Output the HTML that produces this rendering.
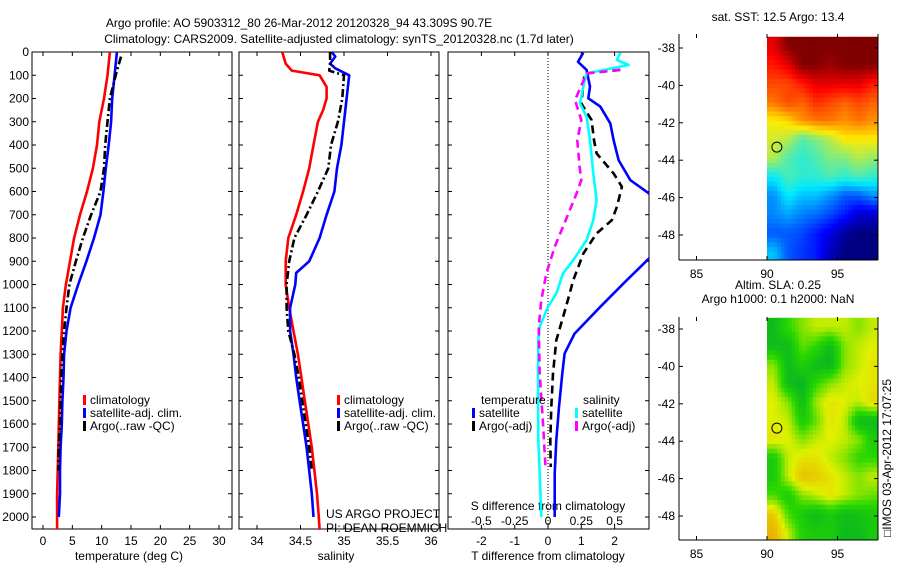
<!DOCTYPE html>
<html><head><meta charset="utf-8"><style>
body{margin:0;background:#fff}
svg text{font-family:"Liberation Sans",sans-serif;font-size:12px;fill:#000}
</style></head><body>
<svg id="c" width="900" height="580" xmlns="http://www.w3.org/2000/svg"></svg>
<script>
// ---- data ----
const tClimDepth=[0,100,200,300,400,500,600,700,800,900,1000,1100,1200,1300,1400,1500,1600,1700,1800,1900,2000,2055];
const tClimVal=[11.4,11.0,10.4,9.6,9.2,8.5,7.5,6.3,5.3,4.6,3.9,3.4,3.2,3.0,2.9,2.8,2.7,2.6,2.5,2.4,2.4,2.4];
const tSatDepth=[0,100,200,300,400,500,600,700,800,900,1000,1100,1200,1300,1400,1500,1600,1700,1800,1900,2000];
const tSatVal=[12.6,12.2,11.8,11.6,11.2,10.7,10.3,9.8,8.7,7.4,6.0,4.7,4.0,3.6,3.5,3.3,3.2,3.0,2.9,2.9,2.7];
const tArgoDepth=[20,100,200,300,400,500,600,700,800,900,1000,1100,1200,1300,1400,1500,1600,1700,1800];
const tArgoVal=[13.3,12.4,11.4,11.0,10.6,10.4,9.8,8.2,6.8,5.6,4.5,4.0,3.6,3.3,3.1,3.0,2.9,2.7,2.6];
const sClimDepth=[0,50,80,100,150,200,250,300,400,500,600,700,800,900,1000,1100,1200,1300,1400,1500,1600,1700,1800,1900,2000,2055];
const sClimVal=[34.29,34.33,34.4,34.72,34.8,34.8,34.76,34.70,34.65,34.6,34.53,34.45,34.36,34.33,34.33,34.37,34.42,34.47,34.51,34.55,34.59,34.63,34.66,34.69,34.71,34.72];
const sSatDepth=[0,20,50,70,100,200,300,400,500,600,700,800,900,950,1000,1100,1200,1300,1400,1500,1600,1700,1800,1900,2000];
const sSatVal=[34.86,34.9,34.84,34.9,35.06,35.03,35.0,34.97,34.92,34.89,34.8,34.72,34.6,34.45,34.44,34.38,34.38,34.42,34.45,34.49,34.53,34.57,34.60,34.63,34.65];
const sArgoDepth=[0,50,80,100,200,300,400,500,600,700,800,900,1000,1100,1200,1300,1400,1500,1600,1700,1800];
const sArgoVal=[34.84,34.84,34.83,35.0,34.98,34.93,34.85,34.82,34.7,34.57,34.43,34.37,34.34,34.34,34.36,34.43,34.48,34.52,34.56,34.6,34.63];
const dTSatDepth=[3,42,77,149,199,235,307,379,465,551,608,700,800,888,981,1096,1211,1297,1383,1527,1670,1813,2000];
const dTSatVal=[1.06,0.9,1.16,1.26,1.21,1.57,1.87,1.97,2.12,2.47,3.03,3.6,3.6,3.03,2.37,1.57,0.8,0.5,0.43,0.33,0.25,0.2,0.2];
const dTArgoDepth=[77,92,221,293,379,436,522,580,666,723,780,867,981,1096,1240,1383,1527,1670,1785];
const dTArgoVal=[2.17,1.1,1.0,1.31,1.38,1.46,1.97,2.22,2.07,1.92,1.46,1.06,0.76,0.54,0.25,0.15,0.1,0.07,0.08];
const dSSatDepth=[3,34,56,92,149,221,278,379,522,637,723,809,895,953,1039,1096,1182,1240,1383,1670,1813,2000];
const dSSatVal=[2.17,2.07,2.42,1.16,1.06,0.96,1.16,1.26,1.36,1.46,1.36,1.16,0.76,0.45,0.25,0,-0.25,-0.29,-0.3,-0.29,-0.25,-0.2];
const dSArgoDepth=[77,92,207,293,379,494,551,608,752,838,953,1067,1182,1383,1598,1799];
const dSArgoVal=[2.17,1.16,0.81,1.0,0.88,0.95,1.0,0.86,0.45,0.2,-0.05,-0.2,-0.28,-0.25,-0.15,-0.07];
const depthTicks=[0,100,200,300,400,500,600,700,800,900,1000,1100,1200,1300,1400,1500,1600,1700,1800,1900,2000];
const tTicks=[0,5,10,15,20,25,30];
const sTicks=[34,34.5,35,35.5,36];
const dTicks=[-2,-1,0,1,2];
const dSTicks=[-0.5,-0.25,0,0.25,0.5];
const lonTicks=[85,90,95];
const latTicks=[-38,-40,-42,-44,-46,-48];
const sstGrid=[
[0.9,1.0,1.0,1.0,1.0,1.0,1.0,1.0],
[0.85,0.9,1.0,1.0,0.97,1.0,1.0,1.0],
[0.8,0.8,0.85,0.9,0.9,0.9,0.9,0.85],
[0.75,0.8,0.77,0.83,0.8,0.77,0.8,0.77],
[0.62,0.65,0.72,0.75,0.75,0.72,0.75,0.72],
[0.58,0.55,0.45,0.5,0.55,0.62,0.62,0.62],
[0.55,0.45,0.42,0.45,0.5,0.5,0.55,0.52],
[0.38,0.45,0.42,0.42,0.45,0.42,0.45,0.42],
[0.28,0.38,0.33,0.33,0.28,0.22,0.22,0.28],
[0.27,0.3,0.26,0.24,0.2,0.15,0.08,0.08],
[0.22,0.22,0.2,0.15,0.1,0.03,0.0,0.0],
[0.33,0.22,0.18,0.15,0.06,0.0,0.0,0.0]];
const slaGrid=[
[0.1,0.3,0.45,0.55,0.55,0.55,0.45,0.55],
[0.1,0.1,0.4,0.3,0.1,0.45,0.55,0.6],
[0.45,0.1,0.25,0.1,0.05,0.45,0.55,0.65],
[0.55,0.1,0.05,0.3,0.45,0.55,0.6,0.65],
[0.6,0.45,0.1,0.5,0.65,0.6,0.55,0.7],
[0.6,0.55,0.2,0.4,0.65,0.55,0.1,0.1],
[0.65,0.6,0.45,0.55,0.6,0.55,0.45,0.2],
[0.2,0.55,0.65,0.65,0.55,0.45,0.3,0.3],
[0.2,0.55,0.8,0.75,0.65,0.55,0.45,0.55],
[0.35,0.2,0.45,0.55,0.65,0.55,0.45,0.4],
[0.75,0.35,0.2,0.1,0.2,0.1,0.15,0.2],
[0.85,0.55,0.25,0.2,0.2,0.1,0.1,0.2]];
const gridLat0=-37.4, gridLon0=90;
const argoLon=90.7, argoLat=-43.3;

// ---- helpers ----
const NS="http://www.w3.org/2000/svg";
const svg=document.getElementById('c');
function el(tag,attrs,parent){const e=document.createElementNS(NS,tag);for(const k in attrs)e.setAttribute(k,attrs[k]);(parent||svg).appendChild(e);return e;}
function txt(x,y,s,anchor,parent,extra){const t=el('text',Object.assign({x:x,y:y,'text-anchor':anchor||'start'},extra||{}),parent);t.textContent=s;return t;}
const PY0=52, PY1=529;
const yD=d=>52+d*0.2325;
const xT=v=>43+v*(219-43)/30;
const xS=v=>257+(v-34)*(431-257)/2;
const xD=v=>548+v*33.3;
const xDS=v=>548+v*133.2;
function jet(v){v=Math.max(0,Math.min(1,v));const r=Math.max(0,Math.min(1,1.5-Math.abs(4*v-3))),g=Math.max(0,Math.min(1,1.5-Math.abs(4*v-2))),b=Math.max(0,Math.min(1,1.5-Math.abs(4*v-1)));return `rgb(${Math.round(r*255)},${Math.round(g*235)},${Math.round(b*255)})`;}
const slaStops=[[0,[0,175,40]],[0.3,[40,215,0]],[0.6,[225,240,0]],[1,[240,140,0]]];
function slaCol(v){v=Math.max(0,Math.min(1,v));for(let i=1;i<slaStops.length;i++){if(v<=slaStops[i][0]){const a=slaStops[i-1],b=slaStops[i],f=(v-a[0])/(b[0]-a[0]);return 'rgb('+a[1].map((x,k)=>Math.round(x+(b[1][k]-x)*f)).join(',')+')';}}return 'rgb(240,140,0)';}
function sample(grid,r,c){
  const R=grid.length,C=grid[0].length;
  r=Math.max(0,Math.min(R-1,r));c=Math.max(0,Math.min(C-1,c));
  const r0=Math.floor(r),c0=Math.floor(c),r1=Math.min(R-1,r0+1),c1=Math.min(C-1,c0+1),fr=r-r0,fc=c-c0;
  return grid[r0][c0]*(1-fr)*(1-fc)+grid[r0][c1]*(1-fr)*fc+grid[r1][c0]*fr*(1-fc)+grid[r1][c1]*fr*fc;
}

function panel(x0,x1,name){
  const g=el('g',{});
  
  
  el('rect',{x:x0,y:PY0,width:x1-x0,height:PY1-PY0,fill:'none',stroke:'#000','stroke-width':1},g);
  depthTicks.forEach(d=>{const y=yD(d);el('line',{x1:x0,x2:x0+4,y1:y,y2:y,stroke:'#000'},g);el('line',{x1:x1,x2:x1-4,y1:y,y2:y,stroke:'#000'},g);});
  return g;
}
function series(g,depths,vals,xf,color,dash,name,clip){
  const pts=depths.map((d,i)=>xf(vals[i]).toFixed(1)+','+yD(d).toFixed(1)).join(' ');
  const a={points:pts,fill:'none',stroke:color,'stroke-width':2.6,'stroke-linejoin':'round'};
  if(dash)a['stroke-dasharray']=dash;
  if(clip)a['clip-path']=clip;
  const p=el('polyline',a,g);
  
  
}
function legend(g,x,y,items){
  items.forEach((it,i)=>{el('rect',{x:x,y:y+i*13-9,width:3,height:10,fill:it[0]},g);txt(x+7,y+i*13,it[1],'start',g);});
}

const t1=txt(299,27,'Argo profile: AO 5903312_80 26-Mar-2012 20120328_94 43.309S 90.7E','middle',null,{'font-size':'13'});

const t2=txt(339,43,'Climatology: CARS2009. Satellite-adjusted climatology: synTS_20120328.nc (1.7d later)','middle',null,{'font-size':'13'});


const p1=panel(32,232,'temperature-panel');
depthTicks.forEach(d=>txt(29,yD(d)+4,String(d),'end',p1));
tTicks.forEach(v=>{el('line',{x1:xT(v),x2:xT(v),y1:PY1,y2:PY1-4,stroke:'#000'},p1);el('line',{x1:xT(v),x2:xT(v),y1:PY0,y2:PY0+4,stroke:'#000'},p1);txt(xT(v),545,String(v),'middle',p1);});
txt(129,560,'temperature (deg C)','middle',p1);
series(p1,tClimDepth,tClimVal,xT,'#f00',null,'temp-climatology-line');
series(p1,tSatDepth,tSatVal,xT,'#00f',null,'temp-satellite-line');
series(p1,tArgoDepth,tArgoVal,xT,'#000','8,3,2,3','temp-argo-line');
const l1=el('g',{},p1);
legend(l1,83,404,[['#f00','climatology'],['#00f','satellite-adj. clim.'],['#000','Argo(..raw -QC)']]);

const p2=panel(239,439,'salinity-panel');
sTicks.forEach(v=>{el('line',{x1:xS(v),x2:xS(v),y1:PY1,y2:PY1-4,stroke:'#000'},p2);el('line',{x1:xS(v),x2:xS(v),y1:PY0,y2:PY0+4,stroke:'#000'},p2);txt(xS(v),545,String(v),'middle',p2);});
txt(336,560,'salinity','middle',p2);
series(p2,sClimDepth,sClimVal,xS,'#f00',null,'sal-climatology-line');
series(p2,sSatDepth,sSatVal,xS,'#00f',null,'sal-satellite-line');
series(p2,sArgoDepth,sArgoVal,xS,'#000','8,3,2,3','sal-argo-line');
const l2=el('g',{},p2);
legend(l2,337,404,[['#f00','climatology'],['#00f','satellite-adj. clim.'],['#000','Argo(..raw -QC)']]);
const cr=el('g',{},p2);
txt(326,518,'US ARGO PROJECT','start',cr);txt(326,532,'PI: DEAN ROEMMICH','start',cr);

const cp=el('clipPath',{id:'cp3'});
el('rect',{x:448,y:PY0,width:201,height:PY1-PY0},cp);
const p3=panel(448,649,'difference-panel');
el('line',{x1:xD(0),x2:xD(0),y1:PY0,y2:PY1,stroke:'#000','stroke-dasharray':'1,2'},p3);
dTicks.forEach(v=>{el('line',{x1:xD(v),x2:xD(v),y1:PY1,y2:PY1-4,stroke:'#000'},p3);el('line',{x1:xD(v),x2:xD(v),y1:PY0,y2:PY0+4,stroke:'#000'},p3);txt(xD(v),545,String(v),'middle',p3);});
txt(548,560,'T difference from climatology','middle',p3);
txt(548,510,'S difference from climatology','middle',p3);
dSTicks.forEach(v=>txt(xDS(v),525,String(v),'middle',p3));
series(p3,dTSatDepth,dTSatVal,xD,'#00f',null,'dT-satellite-line','url(#cp3)');
series(p3,dTArgoDepth,dTArgoVal,xD,'#000','8,5','dT-argo-line','url(#cp3)');
series(p3,dSSatDepth,dSSatVal,xD,'#0ff',null,'dS-satellite-line','url(#cp3)');
series(p3,dSArgoDepth,dSArgoVal,xD,'#f0f','8,5','dS-argo-line','url(#cp3)');
const l3=el('g',{},p3);
txt(481,404,'temperature','start',l3);legend(l3,472,417,[['#00f','satellite'],['#000','Argo(-adj)']]);
txt(583,404,'salinity','start',l3);legend(l3,575,417,[['#0ff','satellite'],['#f0f','Argo(-adj)']]);

function mapPanel(y0,y1,lat38,lat48,grid,colorFn,name,titles){
  const g=el('g',{});
  
  
  const x0=679,x1=878;
  const xL=v=>767+(v-90)*14.1;
  const yL=v=>lat38+(v+38)*(lat48-lat38)/(-10);
  const step=0.25;
  for(let la=0;la<12;la+=step){for(let lo=0;lo<8;lo+=step){
    const xa=xL(gridLon0+lo),xb=Math.min(x1,xL(gridLon0+lo+step));
    const ya=Math.max(y0,yL(gridLat0-la)),yb=Math.min(y1,yL(gridLat0-la-step));
    if(yb>ya&&xb>xa){const v=sample(grid,la-0.5+step/2,lo-0.5+step/2);
      const cell=el('rect',{x:xa,y:ya,width:xb-xa+0.4,height:yb-ya+0.4,fill:colorFn(v)},g);
      
      }
  }}
  el('line',{x1:x0,x2:x1,y1:y1,y2:y1,stroke:'#000'},g);
  el('line',{x1:x0,x2:x0,y1:y0,y2:y1,stroke:'#000'},g);
  el('line',{x1:x1,x2:x1,y1:y0,y2:y1,stroke:'#000'},g);
  lonTicks.forEach(v=>{el('line',{x1:xL(v),x2:xL(v),y1:y1,y2:y1-4,stroke:'#000'},g);el('line',{x1:xL(v),x2:xL(v),y1:y0,y2:y0+4,stroke:'#000'},g);txt(xL(v),y1+18,String(v),'middle',g);});
  latTicks.forEach(v=>{el('line',{x1:x0,x2:x0+4,y1:yL(v),y2:yL(v),stroke:'#000'},g);el('line',{x1:x1,x2:x1-4,y1:yL(v),y2:yL(v),stroke:'#000'},g);txt(x0-4,yL(v)+4,String(v),'end',g);});
  const c=el('circle',{cx:xL(argoLon),cy:yL(argoLat),r:5,fill:'none',stroke:'#000'},g);
  
  titles.forEach((s,i)=>txt(778,titles.length===1?y0-13:y0-28+i*14,s,'middle',g));
}
mapPanel(34,260,48,235,sstGrid,jet,'sst-map',['sat. SST: 12.5 Argo: 13.4']);
mapPanel(317,540,329,516,slaGrid,slaCol,'sla-map',['Altim. SLA: 0.25','Argo h1000: 0.1 h2000: NaN']);
const st=txt(0,0,'\u25A1IMOS 03-Apr-2012 17:07:25','middle',null,{transform:'translate(891,458) rotate(-90)'});

</script>
</body></html>
